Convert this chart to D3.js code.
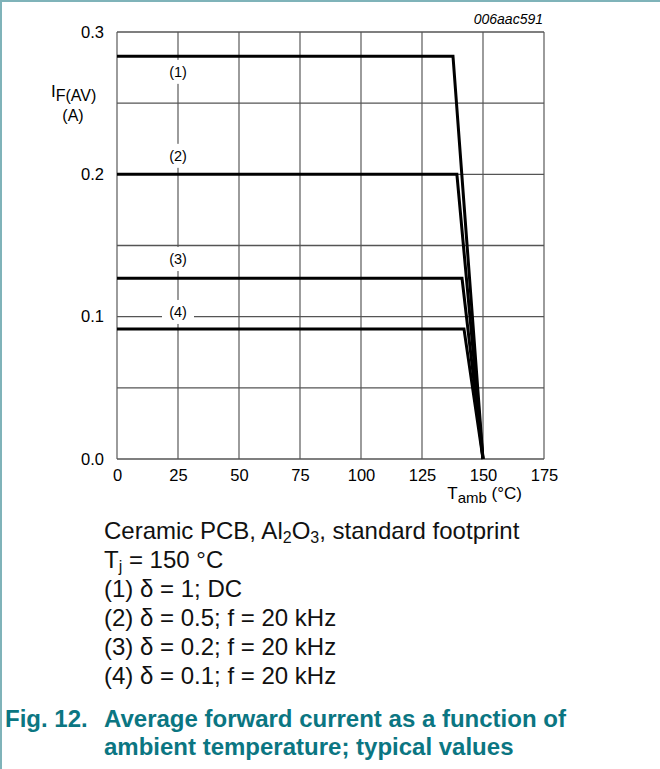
<!DOCTYPE html>
<html>
<head>
<meta charset="utf-8">
<script src="https://cdn.jsdelivr.net/npm/d3@7"></script>
<style>
  body { margin: 0; background: #fff; }
  svg { display: block; font-family: "Liberation Sans", Arial, sans-serif; }
</style>
</head>
<body>
<svg id="chart" width="660" height="769"></svg>
<script>
// Chart data
const xTicks = [0, 25, 50, 75, 100, 125, 150, 175];
const yTicks = [0.0, 0.1, 0.2, 0.3];
const curveNames = ["(1)", "(2)", "(3)", "(4)"];
const kneeTemps = [137.7, 139.3, 141.4, 142.2];
const flatCurrents = [0.283, 0.200, 0.127, 0.0914];
const endTemp = 150;
const labelYs = [0.272, 0.213, 0.1405, 0.1033];   // where each "(n)" tag sits
const notes = [
    "Ceramic PCB, Al<sub>2</sub>O<sub>3</sub>, standard footprint",
    "T<sub>j</sub> = 150 °C",
    "(1) δ = 1; DC",
    "(2) δ = 0.5; f = 20 kHz",
    "(3) δ = 0.2; f = 20 kHz",
    "(4) δ = 0.1; f = 20 kHz"
];

const svg = d3.select("#chart");
const teal = "#0b7682";

// frame lines on top and left
svg.append("line").attr("x1", 0).attr("x2", 660).attr("y1", 1).attr("y2", 1)
    .style("stroke", "#7fb3b9").style("stroke-width", 2);
svg.append("line").attr("x1", 1).attr("x2", 1).attr("y1", 0).attr("y2", 769)
    .style("stroke", "#7fb3b9").style("stroke-width", 2);

const x = d3.scaleLinear().domain([0, 175]).range([117, 544]);
const y = d3.scaleLinear().domain([0, 0.3]).range([459, 32]);

// grid
const grid = svg.append("g").attr("class", "grid");
grid.selectAll("line.v")
    .data(xTicks)
    .enter().append("line")
    .attr("x1", d => x(d)).attr("x2", d => x(d))
    .attr("y1", y(0)).attr("y2", y(0.3))
    .style("stroke", "#666").style("stroke-width", 1.3);
grid.selectAll("line.h")
    .data(d3.range(0, 0.301, 0.05))
    .enter().append("line")
    .attr("x1", x(0)).attr("x2", x(175))
    .attr("y1", d => y(d)).attr("y2", d => y(d))
    .style("stroke", "#555").style("stroke-width", 1.3);

// label tags with white boxes that cut the grid
const tags = svg.append("g");
curveNames.forEach((name, i) => {
    const cx = x(25), cy = y(labelYs[i]);
    tags.append("rect")
        .attr("x", cx - 16).attr("y", cy - 12)
        .attr("width", 32).attr("height", 24)
        .style("fill", "#fff");
    tags.append("text")
        .attr("x", cx).attr("y", cy + 5)
        .attr("text-anchor", "middle")
        .style("font-size", "14.5px")
        .text(name);
});

// curves
const line = d3.line().x(d => x(d[0])).y(d => y(d[1]));
const curves = curveNames.map((n, i) => [
    [0, flatCurrents[i]], [kneeTemps[i], flatCurrents[i]], [endTemp, 0]
]);
svg.append("g")
    .selectAll("path")
    .data(curves)
    .enter().append("path")
    .attr("d", line)
    .style("fill", "none")
    .style("stroke", "#000")
    .style("stroke-width", 3)
    .style("stroke-linejoin", "miter");

// axes labels
const xAxis = d3.axisBottom(x).tickValues(xTicks).tickSize(0).tickPadding(10)
    .tickFormat(d3.format("d"));
svg.append("g").attr("transform", `translate(0,${y(0)})`).call(xAxis)
    .call(g => g.select(".domain").remove())
    .selectAll("text")
    .style("font-family", "Liberation Sans, Arial, sans-serif")
    .style("font-size", "16.5px").style("fill", "#000");

const yAxis = d3.axisLeft(y).tickValues(yTicks).tickSize(0).tickPadding(13)
    .tickFormat(d3.format(".1f"));
svg.append("g").attr("transform", `translate(${x(0)},0)`).call(yAxis)
    .call(g => g.select(".domain").remove())
    .selectAll("text")
    .style("font-family", "Liberation Sans, Arial, sans-serif")
    .style("font-size", "16.5px").style("fill", "#000");

// y title
const yt = svg.append("text").attr("x", 51).attr("y", 97).style("font-size", "17px");
yt.append("tspan").text("I");
yt.append("tspan").attr("dy", 4).style("font-size", "16px").text("F(AV)");
svg.append("text").attr("x", 73).attr("y", 121).attr("text-anchor", "middle")
    .style("font-size", "16px").text("(A)");

// x title
const xt = svg.append("text").attr("x", 522).attr("y", 499).attr("text-anchor", "end")
    .style("font-size", "17px");
xt.append("tspan").text("T");
xt.append("tspan").attr("dy", 4).style("font-size", "15px").text("amb");
xt.append("tspan").attr("dy", -4).text(" (°C)");

// figure id
svg.append("text").attr("x", 543).attr("y", 24).attr("text-anchor", "end")
    .style("font-size", "14px").style("font-style", "italic").text("006aac591");

// notes
notes.forEach((n, i) => {
    const t = svg.append("text").attr("x", 104).attr("y", 539 + i * 29)
        .style("font-size", "24px").style("fill", "#111");
    let shift = 0;
    n.split(/(<sub>.*?<\/sub>)/).forEach(p => {
        if (!p) return;
        if (p.startsWith("<sub>")) {
            t.append("tspan").attr("dy", 4 - shift).style("font-size", "16px")
                .text(p.replace(/<\/?sub>/g, ""));
            shift = 4;
        } else {
            t.append("tspan").attr("dy", -shift).text(p);
            shift = 0;
        }
    });
});

// caption
const cap = svg.append("g").style("fill", teal).style("font-weight", "bold")
    .style("font-size", "24px");
cap.append("text").attr("x", 5).attr("y", 727).text("Fig. 12.");
cap.append("text").attr("x", 104).attr("y", 727).text("Average forward current as a function of");
cap.append("text").attr("x", 104).attr("y", 755).text("ambient temperature; typical values");
</script>
</body>
</html>
